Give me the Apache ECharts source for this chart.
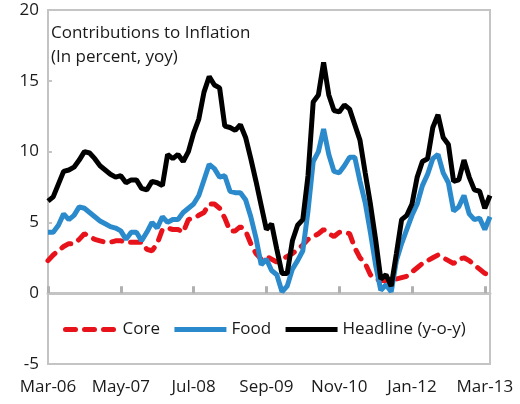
<!DOCTYPE html>
<html>
<head>
<meta charset="utf-8">
<script src="https://cdn.jsdelivr.net/npm/echarts@6/dist/echarts.min.js"></script>
<style>
  html, body { margin: 0; padding: 0; background: #fff; }
  #chart { width: 520px; height: 404px; }
</style>
</head>
<body>
<div id="chart"></div>
<script>
// monthly, Mar-06 .. Apr-13
const months = (() => {
    const nm = ['Jan','Feb','Mar','Apr','May','Jun','Jul','Aug','Sep','Oct','Nov','Dec'];
    const out = [];
    for (let i = 0; i < 86; i++) {
        const m = (2 + i) % 12, y = 6 + Math.floor((2 + i) / 12);
        out.push(nm[m] + '-' + String(y).padStart(2, '0'));
    }
    return out;
})();

const core = [
    2.3, 2.7, 3.0, 3.3, 3.5, 3.5, 3.8, 4.2, 4.0, 3.8, 3.7, 3.6, 3.6, 3.7, 3.7,
    3.6, 3.6, 3.6, 3.6, 3.1, 3.0, 3.5, 4.5, 4.6, 4.5, 4.5, 4.3, 5.2, 5.3, 5.5,
    5.7, 6.3, 6.3, 6.0, 5.3, 4.4, 4.4, 4.7, 4.4, 3.5, 2.8, 2.4, 2.6, 2.4,
    2.2, 2.4, 2.6, 2.8, 3.1, 3.4, 3.8, 4.0, 4.2, 4.5, 4.2, 4.0, 4.3, 4.3, 4.2,
    3.2, 2.5, 2.1, 1.3, 1.0, 0.9, 0.9, 1.0, 1.0, 1.1, 1.2, 1.5, 1.8, 2.1, 2.3,
    2.5, 2.7, 2.5, 2.3, 2.1, 2.4, 2.5, 2.3, 2.0, 1.7, 1.4, 1.3
];
const food = [
    4.3, 4.3, 4.8, 5.6, 5.2, 5.5, 6.1, 6.0, 5.7, 5.4, 5.1, 4.9, 4.7, 4.6, 4.4,
    3.8, 4.3, 4.3, 3.7, 4.3, 5.0, 4.6, 5.4, 5.0, 5.2, 5.2, 5.7, 6.0, 6.3, 6.9,
    8.0, 9.1, 8.8, 8.2, 8.3, 7.2, 7.1, 7.1, 6.6, 5.4, 3.9, 2.0, 2.4, 1.6,
    1.3, 0.1, 0.5, 1.7, 2.3, 3.0, 5.8, 9.3, 10.0, 11.6, 9.8, 8.6, 8.5, 9.0, 9.6,
    9.6, 7.9, 6.4, 4.3, 2.0, 0.2, 0.6, 0.1, 2.3, 3.5, 4.5, 5.5, 6.3, 7.6, 8.4,
    9.5, 9.8, 8.5, 7.8, 5.8, 6.1, 6.9, 5.6, 5.2, 5.3, 4.5, 5.4
];
const headline = [
    6.5, 6.8, 7.7, 8.6, 8.7, 8.9, 9.4, 10.0, 9.9, 9.5, 9.0, 8.7, 8.4, 8.2, 8.3,
    7.8, 8.0, 8.0, 7.4, 7.3, 7.9, 7.8, 7.6, 9.8, 9.5, 9.8, 9.3, 10.0, 11.3, 12.3,
    14.2, 15.3, 14.7, 14.5, 11.8, 11.7, 11.5, 11.9, 11.0, 9.5, 7.9, 6.2, 4.5, 4.9,
    3.1, 1.4, 1.4, 3.7, 4.8, 5.2, 8.3, 13.5, 14.0, 16.3, 14.0, 12.9, 12.8, 13.3, 13.0,
    11.9, 10.8, 8.5, 6.3, 3.8, 1.0, 1.3, 0.5, 2.8, 5.2, 5.5, 6.3, 8.2, 9.3, 9.5,
    11.7, 12.6, 11.0, 10.5, 7.9, 8.0, 9.4, 8.2, 7.3, 7.2, 6.0, 6.9
];
const yTicks = { min: -5, max: 20, step: 5 };

const FONT = "'Open Sans', 'Noto Sans', sans-serif";
const INK = '#1a1a1a', FRAME = '#c4c4c4';
const chart = echarts.init(document.getElementById('chart'));

chart.setOption({
    animation: false,
    textStyle: { fontFamily: FONT },
    title: {
        text: 'Contributions to Inflation\n(In percent, yoy)',
        left: 51, top: 21, padding: 0,
        textStyle: { fontSize: 17, fontWeight: 'normal', color: INK, lineHeight: 24, fontFamily: FONT }
    },
    legend: {
        left: 58, top: 316, itemWidth: 52, itemHeight: 10, itemGap: 12,
        itemStyle: { opacity: 0 },
        lineStyle: { width: 5 },
        textStyle: { fontSize: 17, color: INK, fontFamily: FONT },
        data: ['Core', 'Food', 'Headline (y-o-y)']
    },
    grid: {
        left: 48, right: 30, top: 10, bottom: 40,
        show: true, borderColor: FRAME, borderWidth: 2
    },
    xAxis: [{
        type: 'category', data: months, boundaryGap: false, position: 'bottom',
        axisLine: { show: false, onZero: false },
        axisTick: { show: false },
        axisLabel: { interval: 13, margin: 15, fontSize: 17, color: INK, fontFamily: FONT },
        splitLine: { show: false }
    }, {
        type: 'category', data: months, boundaryGap: false, position: 'bottom',
        axisLine: { show: true, onZero: true, lineStyle: { color: FRAME, width: 3 } },
        axisTick: { show: true, inside: true, interval: 13, length: 7, lineStyle: { color: '#b0b0b0', width: 3 } },
        axisLabel: { show: true, interval: 13, color: 'rgba(0,0,0,0)', fontSize: 1 },
        splitLine: { show: false }
    }],
    yAxis: {
        type: 'value', min: yTicks.min, max: yTicks.max, interval: yTicks.step,
        axisLine: { show: false },
        axisTick: { show: true, inside: true, length: 4, lineStyle: { color: FRAME, width: 2 } },
        axisLabel: { margin: 9, fontSize: 17, color: INK, fontFamily: FONT },
        splitLine: { show: false }
    },
    series: [
        { name: 'Core', type: 'line', data: core, symbol: 'none',
          lineStyle: { color: '#e8121a', width: 5, type: [10, 9], cap: 'round' }, itemStyle: { color: '#e8121a' } },
        { name: 'Food', type: 'line', data: food, symbol: 'none',
          lineStyle: { color: '#2b8acb', width: 5 }, itemStyle: { color: '#2b8acb' } },
        { name: 'Headline (y-o-y)', type: 'line', data: headline, symbol: 'none',
          lineStyle: { color: '#000', width: 5 }, itemStyle: { color: '#000' } }
    ]
});

window.addEventListener('resize', () => chart.resize());
</script>
</body>
</html>
